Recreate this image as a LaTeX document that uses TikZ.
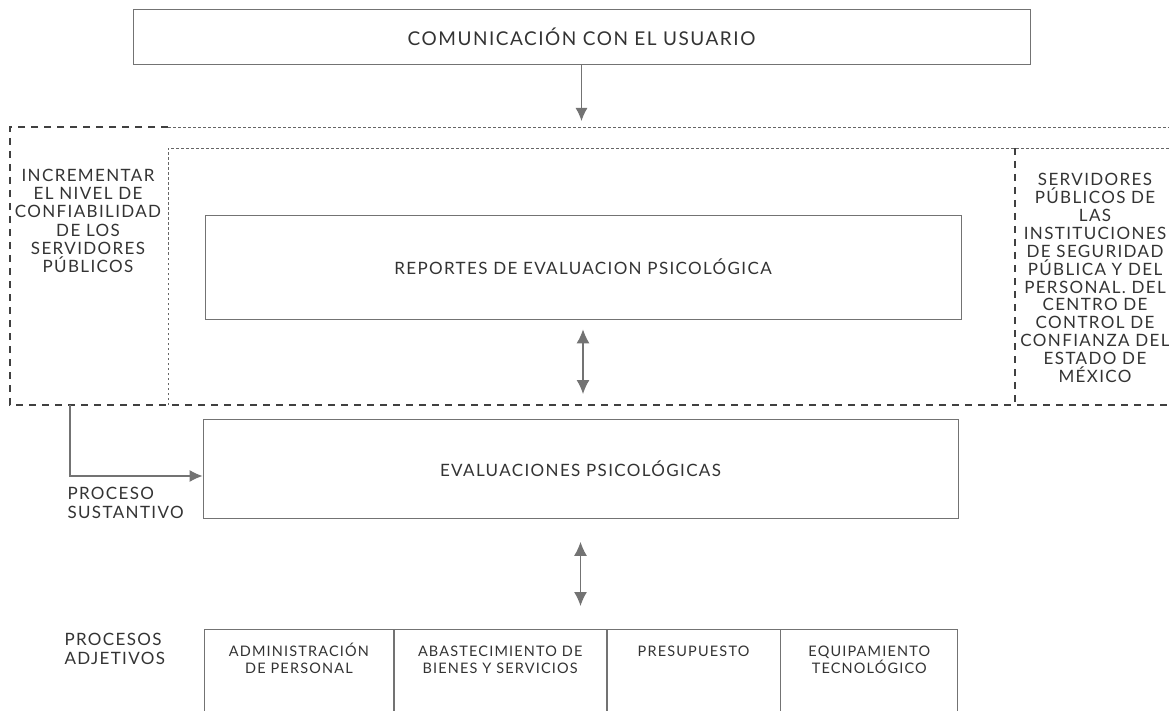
\documentclass[tikz,border=0pt]{standalone}
\usepackage{fontspec}
\setmainfont{Lato}[LetterSpace=8]
\usepackage{tikz}
\usetikzlibrary{arrows.meta}
\usepackage{xcolor}

\begin{document}
\begin{tikzpicture}[x=1pt,y=-1pt,
  caja/.style={rectangle,draw=black!55,line width=0.8pt,inner sep=0pt},
  texto/.style={text=black!80,align=center,font=\fontsize{17}{18.3}\selectfont},
  textocelda/.style={text=black!80,align=center,inner sep=0pt,font=\fontsize{14.5}{17}\selectfont},
  rayado/.style={draw=black!75,line width=1.3pt,dash pattern=on 7pt off 6pt},
  punteado/.style={draw=black!60,line width=0.7pt,dash pattern=on 2.5pt off 2.5pt},
  flecha/.style={draw=black!55,line width=1.2pt,-{Latex[length=13pt,width=12pt]}},
  doble/.style={draw=black!55,line width=1.2pt,{Latex[length=14pt,width=13pt]}-{Latex[length=14pt,width=13pt]}}]
\path[use as bounding box,clip] (0,0) rectangle (1169,711);

\node [caja,minimum width=897pt,minimum height=55pt] (usuario) at (581.5,36.5)
  {\fontsize{19}{21}\selectfont\color{black!80}COMUNICACIÓN CON EL USUARIO};

% recuadros rayados
\draw [rayado] (168,127) -- (10,127) -- (10,405) -- (1175,405);
\draw [punteado] (168,127) -- (1175,127);
\draw [punteado] (168,405) -- (168,148) -- (1175,148);
\draw [rayado] (1015,148) -- (1015,405);

\node [texto] (incrementar) at (88,221)
  {INCREMENTAR\\EL NIVEL DE\\CONFIABILIDAD\\DE LOS\\SERVIDORES\\PÚBLICOS};
\node [texto,font=\fontsize{17}{17.9}\selectfont] (servidores) at (1095,278)
  {SERVIDORES\\PÚBLICOS DE\\LAS\\INSTITUCIONES\\DE SEGURIDAD\\PÚBLICA Y DEL\\PERSONAL. DEL\\CENTRO DE\\CONTROL DE\\CONFIANZA DEL\\ESTADO DE\\MÉXICO};

\node [caja,minimum width=756pt,minimum height=104pt,text=black!80,font=\fontsize{17}{19}\selectfont] (reportes) at (583,267)
  {REPORTES DE EVALUACION PSICOLÓGICA};
\node [caja,minimum width=755pt,minimum height=99pt,text=black!80,font=\fontsize{17}{19}\selectfont] (evaluaciones) at (580.5,469)
  {EVALUACIONES PSICOLÓGICAS};

\node [texto,align=left,anchor=north west] (sustantivo) at (64,484) {PROCESO\\SUSTANTIVO};
\node [texto,align=left,anchor=north west] (adjetivos) at (61,630) {PROCESOS\\ADJETIVOS};

% procesos adjetivos
\node [caja,minimum width=189pt,minimum height=110pt,anchor=north west] (admin) at (204,629) {};
\node [caja,minimum width=212pt,minimum height=110pt,right=0pt,at=(admin.east)] (abasto) {};
\node [caja,minimum width=173pt,minimum height=110pt,right=0pt,at=(abasto.east)] (presupuesto) {};
\node [caja,minimum width=177pt,minimum height=110pt,right=0pt,at=(presupuesto.east)] (equipo) {};

\node [textocelda,below=14pt,at=(admin.north)] (admintxt) {\vphantom{Ó}ADMINISTRACIÓN\\DE PERSONAL};
\node [textocelda,below=14pt,at=(abasto.north)] (abastotxt) {\vphantom{Ó}ABASTECIMIENTO DE\\BIENES Y SERVICIOS};
\node [textocelda,below=14pt,at=(presupuesto.north)] (presupuestotxt) {\vphantom{Ó}PRESUPUESTO};
\node [textocelda,below=14pt,at=(equipo.north)] (equipotxt) {\vphantom{Ó}EQUIPAMIENTO\\TECNOLÓGICO};

% conectores
\coordinate (entrada) at (581.5,121);
\coordinate (finreportes) at (583,394);
\coordinate (bajada) at (70,405);
\coordinate (codo) at (70,476);

\draw [flecha] (usuario) -- (entrada);
\draw [doble,shorten <=10pt] (reportes.south) -- (finreportes);
\draw [flecha] (bajada) -- (codo) -- (codo -| evaluaciones.west);
\draw [doble,shorten <=23pt,shorten >=23pt] (evaluaciones.south) -- (evaluaciones.south |- abasto.north);
\end{tikzpicture}
\end{document}
